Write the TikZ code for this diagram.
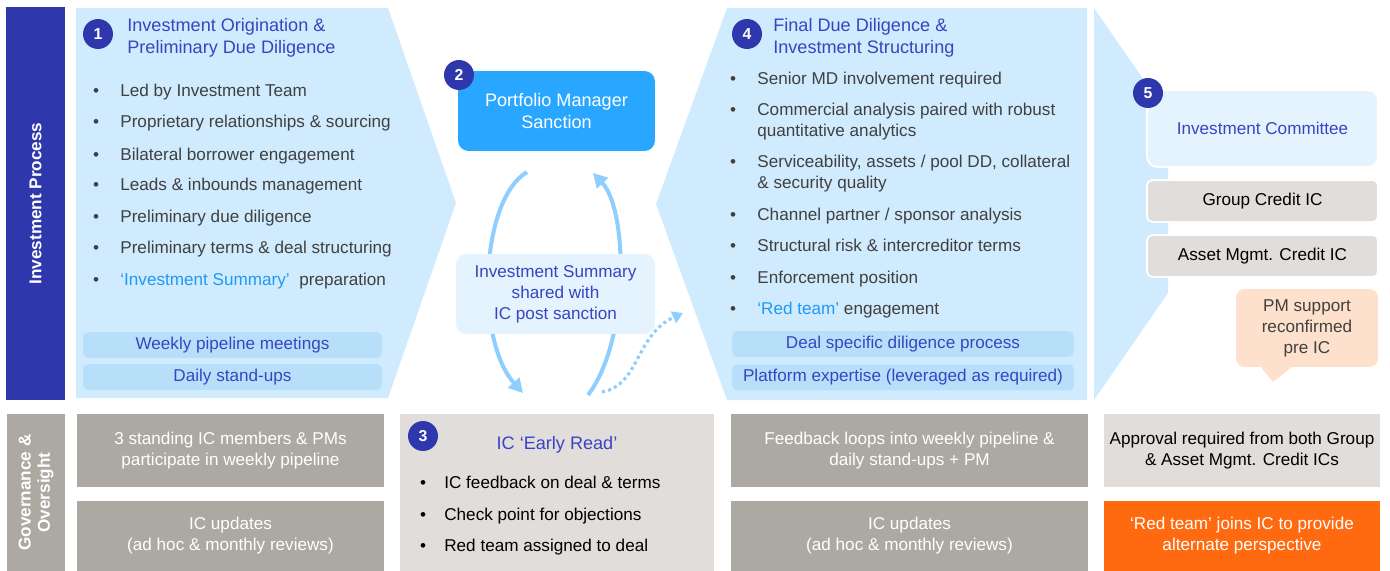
\documentclass[tikz,border=0pt]{standalone}
\usepackage{fontspec}
\setmainfont{Liberation Sans}
\usetikzlibrary{arrows.meta}

\definecolor{navy}{HTML}{2E38AC}
\definecolor{titleblue}{HTML}{3944C2}
\definecolor{paleblue}{HTML}{D0EBFD}
\definecolor{subblue}{HTML}{B8DFFA}
\definecolor{pmblue}{HTML}{29A6FF}
\definecolor{sumblue}{HTML}{E4F3FD}
\definecolor{arrowblue}{HTML}{8ECFFF}
\definecolor{hlblue}{HTML}{1E9AF5}
\definecolor{stone}{HTML}{ACA8A2}
\definecolor{ash}{HTML}{E0DDDA}
\definecolor{peach}{HTML}{FDE1CC}
\definecolor{flame}{HTML}{FF6A10}
\definecolor{ink}{HTML}{404040}

\newcommand{\twolines}[2]{\begin{tabular}[t]{@{}l@{}}#1\\#2\end{tabular}}

\begin{document}
\begin{tikzpicture}
    [x = 0.02cm, y = -0.02cm,
     every node/.style = {inner sep = 0pt, font = \fontsize{9.75}{11.9}\selectfont},
     badge/.style = {circle, fill = navy, text = white, minimum size = 0.6cm,
       font = \fontsize{9}{10}\selectfont\bfseries},
     heading/.style = {anchor = west, align = left, text = titleblue,
       font = \fontsize{10.3}{12.5}\selectfont},
     item/.style = {anchor = base west, text = ink},
     dot/.style = {anchor = base, text = ink},
     subbox/.style = {fill = subblue, rounded corners = 3pt, text = titleblue, minimum height = 0.52cm},
     sidebar/.style = {rotate = 90, text = white, align = center,
       font = \fontsize{9.75}{11}\selectfont\bfseries},
     greybox/.style = {fill = stone, text = white, align = center, minimum height = 1.46cm},
     icbox/.style = {fill = ash, draw = white, line width = 1pt, rounded corners = 3pt,
       minimum width = 4.62cm, minimum height = 0.84cm},
     loop/.style = {draw = arrowblue, line width = 2.3pt, -{Triangle[length = 8pt, width = 8.5pt]}}]

    \useasboundingbox (0,0) rectangle (1390,571);

    % process shapes
    \fill[paleblue] (76,8) -- (388,8) -- (456,203) -- (388,398) -- (76,398) -- cycle;
    \fill[paleblue] (727,8) -- (1087,8) -- (1087,400) -- (727,400) -- (656,204) -- cycle;
    \fill[paleblue] (1094,8) -- (1168,115) -- (1168,293) -- (1094,400) -- cycle;

    \node[sidebar, fill = navy, minimum width = 7.86cm, minimum height = 1.18cm] (proc) at (35.5,203.5) {Investment Process};
    \node[sidebar, fill = stone, minimum width = 3.14cm, minimum height = 1.16cm] (gov) at (36,492.5) {Governance \&\\Oversight};

    % 1
    \node[badge] (s1) at (98,34) {1};
    \node[heading] (t1) at (127,38) {Investment Origination \&\\Preliminary Due Diligence};
    \foreach \y/\txt [count = \i] in {97/Led by Investment Team, 128/Proprietary relationships \& sourcing,
        160/Bilateral borrower engagement, 191/Leads \& inbounds management, 222/Preliminary due diligence,
        253/Preliminary terms \& deal structuring,
        285/{{\color{hlblue}‘Investment Summary’}\ \ preparation}}
    {
      \node[dot] (od\i) at (96,\y) {•};
      \node[item] (o\i) at (120,\y) {\txt};
    }
    \node[subbox, minimum width = 5.98cm] (weekly) at (232.5,345) {Weekly pipeline meetings};
    \node[subbox, minimum width = 5.98cm] (daily) at (232.5,377) {Daily stand-ups};

    % 2
    \coordinate (la) at (527,172);
    \coordinate (lb) at (523,393);
    \coordinate (ra) at (588,395);
    \coordinate (rb) at (593,173);
    \coordinate (da) at (602,392);
    \coordinate (db) at (683,313);
    \draw[loop] (la) .. controls (480,200) and (475,340) .. (lb);
    \draw[loop] (ra) .. controls (630,340) and (628,210) .. (rb);
    \draw[draw = arrowblue, line width = 1.8pt, dash pattern = on 1.8pt off 1.8pt,
      -{Triangle[length = 6pt, width = 7pt]}] (da) .. controls (640,385) and (635,335) .. (db);
    \node[fill = pmblue, text = white, rounded corners = 6pt, align = center,
      font = \fontsize{10.3}{12.5}\selectfont, minimum width = 3.94cm, minimum height = 1.6cm]
      (pm) at (556.5,111) {Portfolio Manager\\Sanction};
    \node[badge] (s2) at (459,75) {2};
    \node[fill = sumblue, text = titleblue, rounded corners = 6pt, align = center,
      minimum width = 3.98cm, minimum height = 1.6cm] (summ) at (555.5,294) {Investment Summary\\shared with\\IC post sanction};

    % 4
    \node[badge] (s4) at (747,34) {4};
    \node[heading] (t4) at (773,38) {Final Due Diligence \&\\Investment Structuring};
    \foreach \y/\txt [count = \i] in {85/Senior MD involvement required,
        116/{\twolines{Commercial analysis paired with robust}{quantitative analytics}},
        168/{\twolines{Serviceability, assets / pool DD, collateral}{\& security quality}},
        220/{Channel partner / sponsor analysis}, 251/Structural risk \& intercreditor terms,
        283/Enforcement position, 314/{{\color{hlblue}‘Red team’} engagement}}
    {
      \node[dot] (fd\i) at (733,\y) {•};
      \node[item] (f\i) at (757,\y) {\txt};
    }
    \node[subbox, minimum width = 6.84cm] (deal) at (903,344) {Deal specific diligence process};
    \node[subbox, minimum width = 6.84cm] (plat) at (903,377.5) {Platform expertise (leveraged as required)};

    % 5
    \node[fill = sumblue, draw = white, line width = 1pt, rounded corners = 6pt, text = titleblue,
      minimum width = 4.62cm, minimum height = 1.54cm] (ic) at (1262.5,128.5) {Investment Committee};
    \node[badge] (s5) at (1148,93) {5};
    \node[icbox] (group) at (1262.5,201) {Group Credit IC};
    \node[icbox] (asset) at (1262.5,256) {Asset Mgmt. Credit IC};
    \fill[peach] (1260,366) -- (1273,382) -- (1293,366) -- cycle;
    \node[fill = peach, text = ink, rounded corners = 5pt, align = center,
      minimum width = 2.84cm, minimum height = 1.56cm] (pmsup) at (1307,328) {PM support\\reconfirmed\\pre IC};

    % governance row
    \node[greybox, minimum width = 6.14cm] (ga) at (230.5,450.5) {3 standing IC members \& PMs\\participate in weekly pipeline};
    \node[greybox, minimum width = 6.14cm, minimum height = 1.4cm] (gb) at (230.5,536) {IC updates\\(ad hoc \& monthly reviews)};
    \node[fill = ash, minimum width = 6.28cm, minimum height = 3.14cm] (early) at (557,492.5) {};
    \node[badge] (s3) at (423,436) {3};
    \node[text = titleblue, font = \fontsize{10.3}{12.5}\selectfont] (t3) at (557,445) {IC ‘Early Read’};
    \foreach \y/\txt [count = \i] in {488/IC feedback on deal \& terms, 520/Check point for objections,
        551/Red team assigned to deal}
    {
      \node[dot, text = black] (ed\i) at (423,\y) {•};
      \node[item, text = black] (e\i) at (444,\y) {\txt};
    }
    \node[greybox, minimum width = 7.14cm] (gc) at (909.5,450.5) {Feedback loops into weekly pipeline \&\\daily stand-ups + PM};
    \node[greybox, minimum width = 7.14cm, minimum height = 1.4cm] (gd) at (909.5,536) {IC updates\\(ad hoc \& monthly reviews)};
    \node[greybox, fill = ash, text = black, minimum width = 5.52cm] (ge) at (1242,450.5) {Approval required from both Group\\\& Asset Mgmt. Credit ICs};
    \node[greybox, fill = flame, minimum width = 5.52cm, minimum height = 1.4cm] (gf) at (1242,536) {‘Red team’ joins IC to provide\\alternate perspective};
  \end{tikzpicture}
\end{document}
